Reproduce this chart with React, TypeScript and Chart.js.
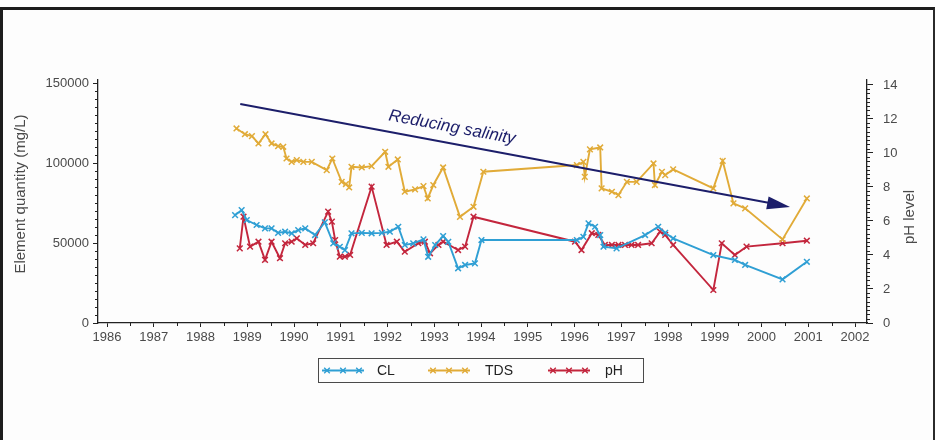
import React, { useEffect, useRef } from 'react';
import { Chart, registerables } from 'chart.js';

Chart.register(...registerables);

// Sampling dates (decimal years) and measured chloride (mg/L)
const clYears = [
  1988.74, 1988.88, 1988.99, 1989.2, 1989.38, 1989.52, 1989.66, 1989.81, 1989.95, 1990.09,
  1990.24, 1990.45, 1990.66, 1990.84, 1990.98, 1991.09, 1991.23, 1991.45, 1991.66, 1991.88,
  1992.05, 1992.23, 1992.37, 1992.55, 1992.77, 1992.87, 1993.02, 1993.19, 1993.3, 1993.51,
  1993.66, 1993.87, 1994.01, 1996.05, 1996.19, 1996.3, 1996.44, 1996.55, 1996.62, 1996.9,
  1997.51, 1997.79, 1997.94, 1998.11, 1998.97, 1999.43, 1999.65, 2000.45, 2000.97,
];
const clValues = [
  67500, 70600, 64400, 61300, 59200, 59200, 56400, 57100, 56100, 58100,
  59200, 55000, 63000, 49800, 47700, 45600, 56100, 56400, 56100, 56400,
  57100, 60200, 48800, 49800, 52300, 41400, 48800, 54400, 50800, 34200,
  36300, 37300, 51900, 51900, 53900, 62300, 60200, 55000, 47700, 46700,
  55000, 60200, 56400, 52900, 42500, 39400, 36300, 27300, 38300,
];

// Total dissolved solids (mg/L)
const tdsYears = [
  1988.77, 1988.95, 1989.1, 1989.24, 1989.39, 1989.52, 1989.66, 1989.77, 1989.84, 1989.95,
  1990.06, 1990.2, 1990.38, 1990.7, 1990.82, 1991.02, 1991.11, 1991.18, 1991.23, 1991.45,
  1991.66, 1991.95, 1992.02, 1992.22, 1992.37, 1992.59, 1992.77, 1992.86, 1992.98, 1993.19,
  1993.55, 1993.84, 1994.05, 1996.05, 1996.19, 1996.22, 1996.33, 1996.55, 1996.58, 1996.8,
  1996.94, 1997.12, 1997.33, 1997.69, 1997.72, 1997.87, 1997.94, 1998.11, 1998.97, 1999.17,
  1999.4, 1999.65, 2000.45, 2000.97,
];
const tdsValues = [
  121700, 118100, 116900, 112300, 118100, 112300, 110600, 110200, 102900, 100800,
  101900, 100800, 100800, 95600, 102900, 88300, 86900, 84800, 97700, 97300,
  98100, 107100, 97700, 102300, 82100, 83600, 85600, 77900, 86300, 97300,
  66400, 72700, 94600, 98800, 100800, 91400, 108600, 109800, 84200, 82100,
  80000, 88300, 88300, 99800, 86300, 94600, 92500, 96100, 84200, 101400,
  74800, 71700, 52300, 77900,
];

// pH readings
const phYears = [
  1988.84, 1988.92, 1989.06, 1989.24, 1989.38, 1989.52, 1989.7, 1989.81, 1989.95, 1990.06,
  1990.24, 1990.41, 1990.73, 1990.81, 1990.88, 1990.98, 1991.09, 1991.2, 1991.66, 1991.98,
  1992.2, 1992.37, 1992.66, 1992.8, 1992.91, 1993.09, 1993.19, 1993.51, 1993.66, 1993.84,
  1996.01, 1996.15, 1996.37, 1996.51, 1996.65, 1996.8, 1996.94, 1997.08, 1997.22, 1997.36,
  1997.65, 1997.83, 1997.94, 1998.11, 1998.97, 1999.15, 1999.43, 1999.68, 2000.45, 2000.97,
];
const phValues = [
  4.39, 6.25, 4.49, 4.78, 3.71, 4.78, 3.81, 4.69, 4.78, 4.98,
  4.59, 4.69, 6.55, 5.96, 4.88, 3.9, 3.9, 4.0, 8.02, 4.59,
  4.78, 4.19, 4.69, 4.78, 4.1, 4.59, 4.78, 4.29, 4.49, 6.25,
  4.78, 4.29, 5.28, 5.18, 4.59, 4.59, 4.59, 4.59, 4.59, 4.59,
  4.69, 5.37, 5.18, 4.59, 1.94, 4.69, 4.0, 4.49, 4.69, 4.84,
];

// Axis ticks
const yearTicks = [
  1986, 1987, 1988, 1989, 1990, 1991, 1992, 1993, 1994, 1995, 1996, 1997, 1998, 1999, 2000, 2001, 2002,
];
const quantityTicks = [0, 50000, 100000, 150000];
const phTicks = [0, 2, 4, 6, 8, 10, 12, 14];

// Trend arrow (year, mg/L) and its caption
const trendFrom = [1988.85, 137000];
const trendTo = [2000.61, 72500];
const trendLabel = 'Reducing salinity';

const seriesNames = ['CL', 'TDS', 'pH'];

const CL_COLOR = '#2f9fd4';
const TDS_COLOR = '#e1ab38';
const PH_COLOR = '#c3263d';
const ARROW_COLOR = '#1c1e6a';
const AXIS_COLOR = '#222222';
const TEXT_COLOR = '#4a4a4a';
const FONT = "'Liberation Sans', Arial, sans-serif";

const X_MIN = 1986 - 9 / 46.75;
const X_MAX = 2002 + 12 / 46.75;

const toPoints = (xs: number[], ys: number[]) => xs.map((x, i) => ({ x, y: ys[i] }));

function drawCross(ctx: CanvasRenderingContext2D, x: number, y: number, r: number) {
  ctx.beginPath();
  ctx.moveTo(x - r, y - r);
  ctx.lineTo(x + r, y + r);
  ctx.moveTo(x - r, y + r);
  ctx.lineTo(x + r, y - r);
  ctx.stroke();
}

const decorPlugin = {
  id: 'decor',
  afterDatasetsDraw(chart: any) {
    const { ctx } = chart;
    const xs = chart.scales.x;
    const ys = chart.scales.y;
    const x0 = xs.getPixelForValue(trendFrom[0]);
    const y0 = ys.getPixelForValue(trendFrom[1]);
    const x1 = xs.getPixelForValue(trendTo[0]);
    const y1 = ys.getPixelForValue(trendTo[1]);
    const ang = Math.atan2(y1 - y0, x1 - x0);
    const headLen = 23;
    const headHalf = 6.5;
    const bx = x1 - headLen * Math.cos(ang);
    const by = y1 - headLen * Math.sin(ang);
    ctx.save();
    ctx.strokeStyle = ARROW_COLOR;
    ctx.fillStyle = ARROW_COLOR;
    ctx.lineWidth = 2;
    ctx.beginPath();
    ctx.moveTo(x0, y0);
    ctx.lineTo(bx + 1, by);
    ctx.stroke();
    ctx.beginPath();
    ctx.moveTo(x1, y1);
    ctx.lineTo(bx + headHalf * Math.sin(ang), by - headHalf * Math.cos(ang));
    ctx.lineTo(bx - headHalf * Math.sin(ang), by + headHalf * Math.cos(ang));
    ctx.closePath();
    ctx.fill();

    // caption sits just above the shaft
    const t = 0.38;
    const mx = x0 + (x1 - x0) * t;
    const my = y0 + (y1 - y0) * t;
    const off = 16;
    const lx = mx + off * Math.sin(ang);
    const ly = my - off * Math.cos(ang);
    ctx.translate(lx, ly);
    ctx.rotate(ang);
    ctx.font = `italic 17px ${FONT}`;
    ctx.textAlign = 'center';
    ctx.textBaseline = 'middle';
    ctx.fillText(trendLabel, 0, 0);
    ctx.restore();
  },
  afterDraw(chart: any) {
    const { ctx } = chart;
    const xs = chart.scales.x;
    const ys = chart.scales.y;
    const ys1 = chart.scales.y1;
    const area = chart.chartArea;
    ctx.save();
    ctx.strokeStyle = AXIS_COLOR;
    ctx.lineWidth = 1;

    // minor ticks
    ctx.beginPath();
    for (let v = 1986.5; v < 2002; v += 1) {
      const px = Math.round(xs.getPixelForValue(v)) + 0.5;
      ctx.moveTo(px, area.bottom);
      ctx.lineTo(px, area.bottom + 3);
    }
    for (let v = 5000; v < 152000; v += 5000) {
      if (v % 50000 === 0) continue;
      const py = Math.round(ys.getPixelForValue(v)) + 0.5;
      ctx.moveTo(area.left, py);
      ctx.lineTo(area.left - 3, py);
    }
    for (let v = 0.25; v < 14.2; v += 0.25) {
      if (Math.abs(v / 2 - Math.round(v / 2)) < 1e-6) continue;
      const py = Math.round(ys1.getPixelForValue(v)) + 0.5;
      ctx.moveTo(area.right, py);
      ctx.lineTo(area.right + 3, py);
    }
    ctx.stroke();

    // axis titles
    ctx.fillStyle = TEXT_COLOR;
    ctx.font = `15px ${FONT}`;
    ctx.textAlign = 'center';
    ctx.textBaseline = 'middle';
    ctx.save();
    ctx.translate(21, 194);
    ctx.rotate(-Math.PI / 2);
    ctx.fillText('Element quantity (mg/L)', 0, 0);
    ctx.restore();
    ctx.save();
    ctx.translate(910, 217);
    ctx.rotate(-Math.PI / 2);
    ctx.fillText('pH level', 0, 0);
    ctx.restore();

    // legend box
    ctx.strokeStyle = '#4a4a4a';
    ctx.lineWidth = 1;
    ctx.strokeRect(318.5, 358.5, 325, 24);
    const colors = [CL_COLOR, TDS_COLOR, PH_COLOR];
    const sampleStart = [322, 428, 548];
    const textStart = [377, 485, 605];
    const cy = 370.5;
    ctx.font = `14px ${FONT}`;
    ctx.textAlign = 'left';
    seriesNames.forEach((name, i) => {
      const sx = sampleStart[i];
      ctx.strokeStyle = colors[i];
      ctx.lineWidth = 1.9;
      ctx.beginPath();
      ctx.moveTo(sx, cy);
      ctx.lineTo(sx + 42, cy);
      ctx.stroke();
      ctx.lineWidth = 1.4;
      [sx + 5, sx + 21, sx + 37].forEach((mx) => drawCross(ctx, mx, cy, 2.8));
      ctx.fillStyle = '#222';
      ctx.fillText(name, textStart[i], cy + 0.5);
    });
    ctx.restore();
  },
};

export default function App() {
  const canvasRef = useRef<HTMLCanvasElement | null>(null);

  useEffect(() => {
    const canvas = canvasRef.current;
    if (!canvas) return;

    const lineDataset = (label: string, color: string, data: any[], axis: string) => ({
      label,
      data,
      yAxisID: axis,
      borderColor: color,
      backgroundColor: color,
      borderWidth: 1.9,
      pointStyle: 'crossRot',
      pointRadius: 4,
      pointBorderWidth: 1.5,
      pointBorderColor: color,
      pointBackgroundColor: color,
      tension: 0,
      fill: false,
    });

    const tickFont = { family: FONT, size: 13 };

    const chart = new Chart(canvas, {
      type: 'line',
      data: {
        datasets: [
          lineDataset(seriesNames[0], CL_COLOR, toPoints(clYears, clValues), 'y'),
          lineDataset(seriesNames[1], TDS_COLOR, toPoints(tdsYears, tdsValues), 'y'),
          lineDataset(seriesNames[2], PH_COLOR, toPoints(phYears, phValues), 'y1'),
        ] as any,
      },
      options: {
        animation: false,
        responsive: false,
        devicePixelRatio: 1,
        events: [],
        layout: { padding: { top: 80, left: 0, right: 0, bottom: 0 } },
        plugins: {
          legend: { display: false },
          tooltip: { enabled: false },
        },
        scales: {
          x: {
            type: 'linear',
            position: 'bottom',
            min: X_MIN,
            max: X_MAX,
            afterBuildTicks: (s: any) => {
              s.ticks = yearTicks.map((value) => ({ value }));
            },
            afterFit: (s: any) => {
              s.height = 117;
            },
            ticks: {
              autoSkip: false,
              maxRotation: 0,
              padding: 3,
              color: TEXT_COLOR,
              font: tickFont,
              callback: (v: any) => String(v),
            },
            grid: {
              display: true,
              drawOnChartArea: false,
              drawTicks: true,
              tickLength: 4,
              tickColor: AXIS_COLOR,
              tickWidth: 1,
            },
            border: { display: true, color: AXIS_COLOR, width: 1.3 },
          },
          y: {
            type: 'linear',
            position: 'left',
            min: 0,
            max: 152000,
            afterBuildTicks: (s: any) => {
              s.ticks = quantityTicks.map((value) => ({ value }));
            },
            afterFit: (s: any) => {
              s.width = 98;
            },
            ticks: {
              padding: 4,
              color: TEXT_COLOR,
              font: tickFont,
              callback: (v: any) => String(v),
            },
            grid: {
              display: true,
              drawOnChartArea: false,
              drawTicks: true,
              tickLength: 5,
              tickColor: AXIS_COLOR,
              tickWidth: 1,
            },
            border: { display: true, color: AXIS_COLOR, width: 1.3 },
          },
          y1: {
            type: 'linear',
            position: 'right',
            min: 0,
            max: 14.29,
            afterBuildTicks: (s: any) => {
              s.ticks = phTicks.map((value) => ({ value }));
            },
            afterFit: (s: any) => {
              s.width = 70;
            },
            ticks: {
              padding: 10,
              color: TEXT_COLOR,
              font: tickFont,
              callback: (v: any) => String(v),
            },
            grid: {
              display: true,
              drawOnChartArea: false,
              drawTicks: true,
              tickLength: 6,
              tickColor: AXIS_COLOR,
              tickWidth: 1,
            },
            border: { display: true, color: AXIS_COLOR, width: 1.3 },
          },
        },
      } as any,
      plugins: [decorPlugin],
    });

    return () => {
      chart.destroy();
    };
  }, []);

  return (
    <div
      style={{
        position: 'fixed',
        left: 0,
        top: 0,
        width: 937,
        height: 440,
        overflow: 'hidden',
        background: '#ffffff',
      }}
    >
      <div
        style={{
          position: 'absolute',
          left: 0,
          top: 7,
          width: 930,
          height: 460,
          borderTop: '3px solid #1e1e1e',
          borderLeft: '3px solid #1e1e1e',
          borderRight: '2px solid #2a2a2a',
          background: '#fdfdfd',
        }}
      />
      <canvas
        ref={canvasRef}
        width={937}
        height={440}
        style={{ position: 'absolute', left: 0, top: 0, width: 937, height: 440 }}
      />
    </div>
  );
}
